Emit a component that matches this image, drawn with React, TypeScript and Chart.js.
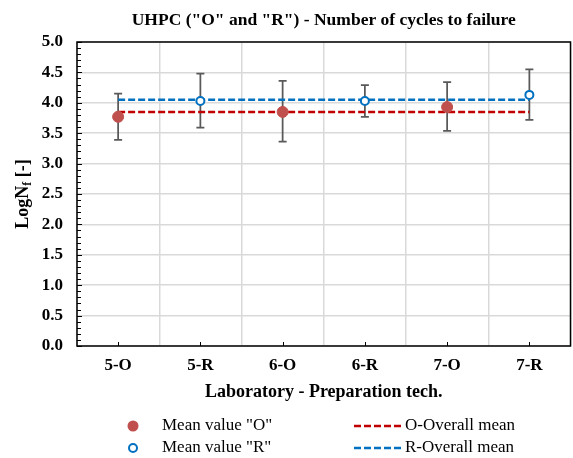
import React, { useEffect, useRef } from "react";
import { Chart, registerables } from "chart.js";
Chart.register(...registerables);

const categories = ["5-O", "5-R", "6-O", "6-R", "7-O", "7-R"];
const meanO = [3.77, null, 3.85, null, 3.93, null];
const meanR = [null, 4.03, null, 4.03, null, 4.13];
const errHigh = [4.15, 4.48, 4.36, 4.29, 4.34, 4.55];
const errLow = [3.39, 3.59, 3.36, 3.77, 3.54, 3.72];
const overallO = [3.85, 3.85, 3.85, 3.85, 3.85, 3.85];
const overallR = [4.05, 4.05, 4.05, 4.05, 4.05, 4.05];
const yMin = 0;
const yMax = 5;
const yStep = 0.5;
const yMinorStep = 0.1;

const titleText = 'UHPC ("O" and "R") - Number of cycles to failure';
const xTitle = "Laboratory - Preparation tech.";
const legendO = 'Mean value "O"';
const legendR = 'Mean value "R"';
const legendOO = "O-Overall mean";
const legendRO = "R-Overall mean";

const SERIF = '"Liberation Serif", "Times New Roman", serif';
const RED_PT = "#C0504D";
const RED_LN = "#C00000";
const BLUE = "#0070C0";

const customPlugin = {
  id: "custom",
  beforeDatasetsDraw(chart: any) {
    const ctx = chart.ctx;
    const x = chart.scales.x;
    const y = chart.scales.y;
    ctx.save();
    ctx.strokeStyle = "#595959";
    ctx.lineWidth = 1.75;
    categories.forEach((_, i) => {
      const px = x.getPixelForValue(i);
      const yt = y.getPixelForValue(errHigh[i]);
      const yb = y.getPixelForValue(errLow[i]);
      ctx.beginPath();
      ctx.moveTo(px, yt);
      ctx.lineTo(px, yb);
      ctx.moveTo(px - 4, yt);
      ctx.lineTo(px + 4, yt);
      ctx.moveTo(px - 4, yb);
      ctx.lineTo(px + 4, yb);
      ctx.stroke();
    });
    ctx.restore();
  },
  afterDraw(chart: any) {
    const ctx = chart.ctx;
    const a = chart.chartArea;
    const x = chart.scales.x;
    const y = chart.scales.y;
    ctx.save();
    // frame
    ctx.strokeStyle = "#000";
    ctx.lineWidth = 1.5;
    ctx.strokeRect(a.left, a.top, a.right - a.left, a.bottom - a.top);
    // y minor/major ticks (inward)
    ctx.lineWidth = 1;
    ctx.beginPath();
    for (let v = yMin; v <= yMax + 1e-9; v += yMinorStep) {
      const py = Math.round(y.getPixelForValue(v)) + 0.5;
      const major = Math.abs(v / yStep - Math.round(v / yStep)) < 1e-6;
      ctx.moveTo(a.left, py);
      ctx.lineTo(a.left + (major ? 5 : 4), py);
    }
    ctx.stroke();
    // x ticks at category centres (inward)
    ctx.beginPath();
    categories.forEach((_, i) => {
      const px = Math.round(x.getPixelForValue(i)) + 0.5;
      ctx.moveTo(px, a.bottom);
      ctx.lineTo(px, a.bottom - 4);
    });
    ctx.stroke();

    const cx = (a.left + a.right) / 2;
    // title
    ctx.fillStyle = "#000";
    ctx.textAlign = "center";
    ctx.textBaseline = "middle";
    ctx.font = `bold 17.5px ${SERIF}`;
    ctx.fillText(titleText, cx, 20);
    // x title
    ctx.font = `bold 18px ${SERIF}`;
    ctx.fillText(xTitle, cx, 392);
    // y title with subscript
    ctx.save();
    ctx.translate(23, (a.top + a.bottom) / 2);
    ctx.rotate(-Math.PI / 2);
    ctx.textAlign = "left";
    const big = `bold 18px ${SERIF}`;
    const small = `bold 12px ${SERIF}`;
    ctx.font = big;
    const w1 = ctx.measureText("LogN").width;
    const w3 = ctx.measureText(" [-]").width;
    ctx.font = small;
    const w2 = ctx.measureText("f").width;
    let sx = -(w1 + w2 + w3) / 2;
    ctx.font = big;
    ctx.fillText("LogN", sx, 0);
    sx += w1;
    ctx.font = small;
    ctx.fillText("f", sx, 5);
    sx += w2;
    ctx.font = big;
    ctx.fillText(" [-]", sx, 0);
    ctx.restore();

    // legend
    const r1 = 426;
    const r2 = 448;
    ctx.textAlign = "left";
    ctx.textBaseline = "middle";
    ctx.font = `17px ${SERIF}`;
    ctx.fillStyle = RED_PT;
    ctx.beginPath();
    ctx.arc(133, r1, 5.5, 0, Math.PI * 2);
    ctx.fill();
    ctx.strokeStyle = BLUE;
    ctx.lineWidth = 2;
    ctx.fillStyle = "#fff";
    ctx.beginPath();
    ctx.arc(133, r2, 4, 0, Math.PI * 2);
    ctx.fill();
    ctx.stroke();
    ctx.fillStyle = "#000";
    ctx.fillText(legendO, 162, r1);
    ctx.fillText(legendR, 162, r2);
    ctx.lineWidth = 2.5;
    ctx.setLineDash([7, 3]);
    ctx.strokeStyle = RED_LN;
    ctx.beginPath();
    ctx.moveTo(354, r1);
    ctx.lineTo(404, r1);
    ctx.stroke();
    ctx.strokeStyle = BLUE;
    ctx.beginPath();
    ctx.moveTo(354, r2);
    ctx.lineTo(404, r2);
    ctx.stroke();
    ctx.setLineDash([]);
    ctx.fillStyle = "#000";
    ctx.fillText(legendOO, 405, r1);
    ctx.fillText(legendRO, 405, r2);
    ctx.restore();
  },
};

export default function App() {
  const ref = useRef<HTMLCanvasElement>(null);
  useEffect(() => {
    if (!ref.current) return;
    const chart = new Chart(ref.current, {
      type: "line",
      data: {
        labels: categories,
        datasets: [
          {
            label: legendO,
            data: meanO,
            showLine: false,
            pointRadius: 5.5,
            pointBackgroundColor: RED_PT,
            pointBorderColor: RED_PT,
            pointBorderWidth: 1,
            order: 0,
          },
          {
            label: legendR,
            data: meanR,
            showLine: false,
            pointRadius: 4,
            pointBackgroundColor: "#fff",
            pointBorderColor: BLUE,
            pointBorderWidth: 2,
            order: 1,
          },
          {
            label: legendOO,
            data: overallO,
            borderColor: RED_LN,
            borderWidth: 2.5,
            borderDash: [7, 3],
            pointRadius: 0,
            fill: false,
            order: 3,
          },
          {
            label: legendRO,
            data: overallR,
            borderColor: BLUE,
            borderWidth: 2.5,
            borderDash: [7, 3],
            pointRadius: 0,
            fill: false,
            order: 2,
          },
        ],
      },
      options: {
        responsive: false,
        animation: false,
        devicePixelRatio: 1,
        layout: { padding: { top: 42, right: 1, left: 0, bottom: 0 } },
        plugins: {
          legend: { display: false },
          title: { display: false },
          tooltip: { enabled: false },
        },
        scales: {
          x: {
            type: "category",
            offset: true,
            grid: { offset: true, color: "#D9D9D9", lineWidth: 1.5, drawTicks: false },
            border: { display: false },
            ticks: {
              padding: 9,
              color: "#000",
              font: { family: SERIF, size: 17, weight: "bold" },
              maxRotation: 0,
            },
            afterFit: (s: any) => {
              s.height = 112;
            },
          },
          y: {
            min: yMin,
            max: yMax,
            grid: { color: "#D9D9D9", lineWidth: 1.5, drawTicks: false },
            border: { display: false },
            ticks: {
              stepSize: yStep,
              padding: 14,
              color: "#000",
              font: { family: SERIF, size: 17, weight: "bold" },
              callback: (v: any) => Number(v).toFixed(1),
            },
            afterFit: (s: any) => {
              s.width = 77;
            },
          },
        },
      },
      plugins: [customPlugin],
    });
    return () => chart.destroy();
  }, []);
  return (
    <div style={{ position: "absolute", left: 0, top: 0, width: 573, height: 458, overflow: "hidden", background: "#fff" }}>
      <canvas ref={ref} width={577} height={458} style={{ width: 577, height: 458, display: "block" }} />
    </div>
  );
}
